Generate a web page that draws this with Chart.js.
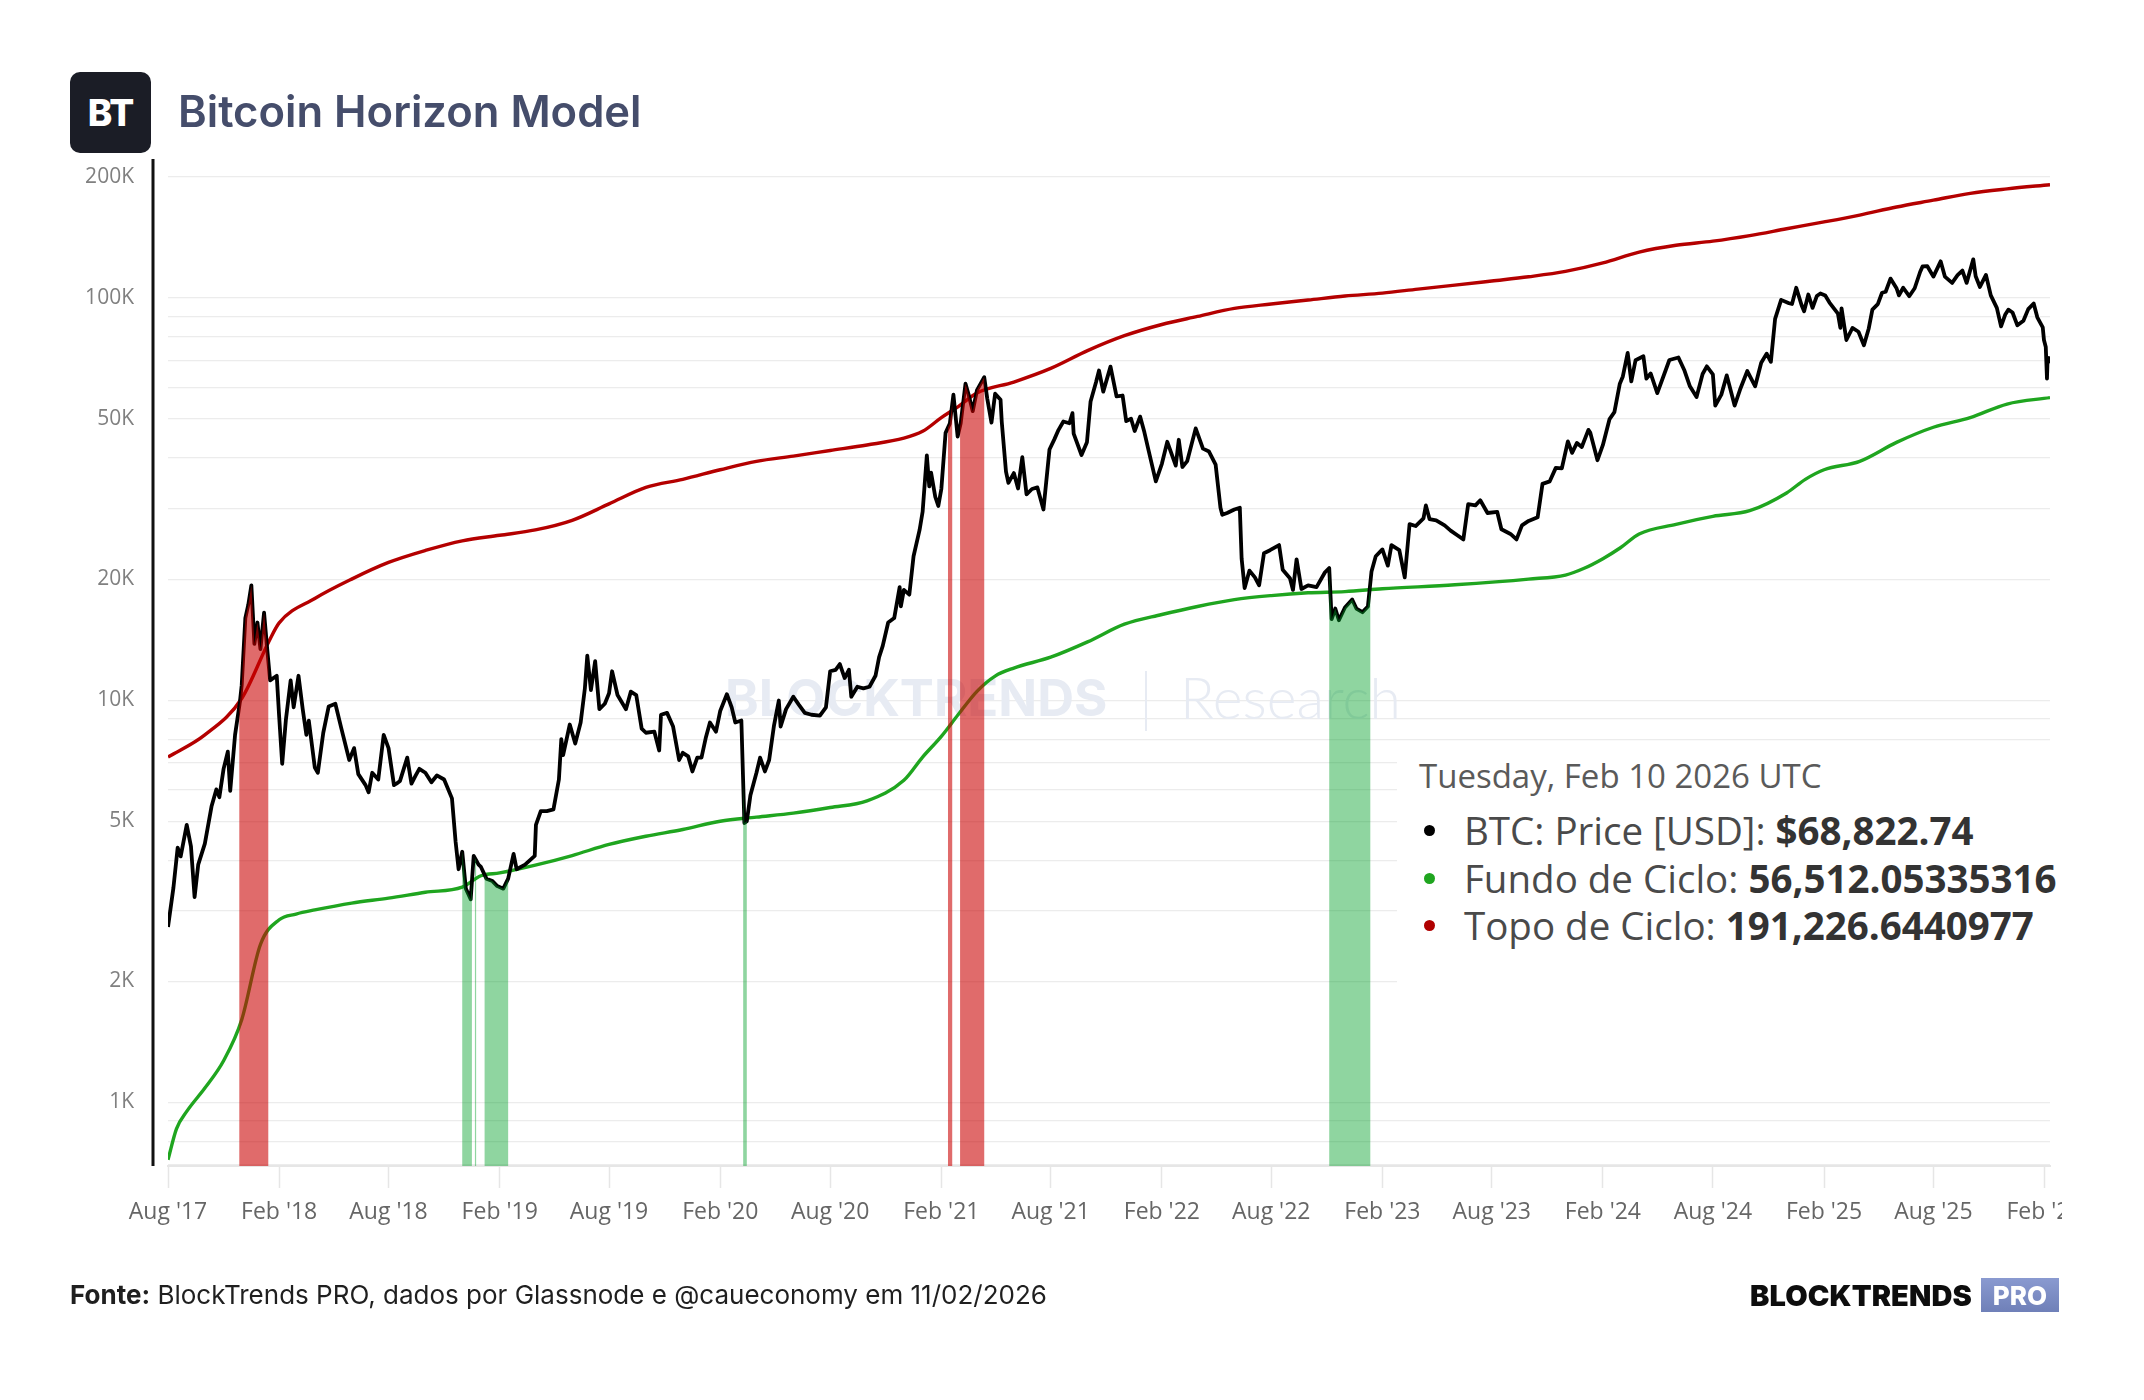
<!DOCTYPE html>
<html>
<head>
<meta charset="utf-8">
<title>Bitcoin Horizon Model</title>
<script src="https://cdn.jsdelivr.net/npm/chart.js@4.4.1/dist/chart.umd.min.js"></script>
<style>
  html, body { margin: 0; padding: 0; background: #fff; }
  #page { position: relative; width: 2144px; height: 1400px; overflow: hidden; background: #fff; font-family: Inter, sans-serif; }
  #chart { position: absolute; left: 0; top: 0; }
  .logo { position: absolute; left: 70px; top: 72px; width: 81px; height: 81px; border-radius: 10px; background: #1b1d26; color: #fff;
          font: 800 37px Inter, sans-serif; display: flex; align-items: center; justify-content: center; letter-spacing: -1px; }
  .title { position: absolute; left: 178px; top: 84px; font: 600 43.6px Inter, sans-serif; line-height: 56px; color: #454d6b; }
  .tip { position: absolute; left: 1397px; top: 752px; width: 700px; height: 235px; background: #fff; font-family: "Open Sans", sans-serif; }
  .tip .head { position: absolute; left: 22px; top: 5px; font-size: 33px; line-height: 38px; color: #5a5a5a; }
  .tip .row { position: absolute; left: 67px; font-size: 38.5px; line-height: 48px; color: #4a4a4a; white-space: nowrap; }
  .tip .row b { color: #333; font-weight: 700; }
  .tip .dot { position: absolute; left: 27px; width: 11px; height: 11px; border-radius: 50%; }
  .mask { position: absolute; left: 2062px; top: 1172px; width: 82px; height: 80px; background: #fff; }
  .source { position: absolute; left: 70px; top: 1277px; font: 400 26px Inter, sans-serif; line-height: 36px; color: #1f1f1f; }
  .source b { font-weight: 700; }
  .brand { position: absolute; left: 1750px; top: 1278px; height: 34px; display: flex; align-items: center; }
  .brand .word { font: 900 29px Inter, sans-serif; color: #0d0d0d; letter-spacing: 0.1px; }
  .brand .pro { margin-left: 9px; width: 78px; height: 34px; background: linear-gradient(#8a9ad0, #6f80b8); color: #fff;
                font: 800 26px Inter, sans-serif; display: flex; align-items: center; justify-content: center; }
</style>
</head>
<body>
<div id="page">
  <canvas id="chart" width="2144" height="1400"></canvas>
  <div class="logo">BT</div>
  <div class="title">Bitcoin Horizon Model</div>
  <div class="tip">
    <div class="head">Tuesday, Feb 10 2026 UTC</div>
    <span class="dot" style="top:73px;background:#000"></span>
    <div class="row" style="top:54px">BTC: Price [USD]: <b>$68,822.74</b></div>
    <span class="dot" style="top:121px;background:#1fa51f"></span>
    <div class="row" style="top:102px">Fundo de Ciclo: <b>56,512.05335316</b></div>
    <span class="dot" style="top:168px;background:#b00000"></span>
    <div class="row" style="top:149px">Topo de Ciclo: <b>191,226.6440977</b></div>
  </div>
  <div class="mask"></div>
  <div class="source"><b>Fonte:</b> BlockTrends PRO, dados por Glassnode e @caueconomy em 11/02/2026</div>
  <div class="brand"><span class="word">BLOCKTRENDS</span><span class="pro">PRO</span></div>
</div>
<script>
// BTC price (roughly two to four points a month)
const priceDates = [
  '2017-08-01','2017-08-10','2017-08-17','2017-08-22','2017-09-01','2017-09-08','2017-09-14','2017-09-20','2017-10-01','2017-10-12','2017-10-20','2017-10-25','2017-11-01','2017-11-08','2017-11-12','2017-11-20','2017-11-28','2017-12-01','2017-12-07','2017-12-12','2017-12-17','2017-12-22','2017-12-27',
  '2018-01-01','2018-01-07','2018-01-12','2018-01-17','2018-01-28','2018-02-01','2018-02-06','2018-02-12','2018-02-20','2018-02-25','2018-03-05','2018-03-12','2018-03-18','2018-03-22','2018-04-01','2018-04-06','2018-04-15','2018-04-24','2018-05-05','2018-05-15','2018-05-28','2018-06-05','2018-06-12','2018-06-24','2018-06-29','2018-07-05','2018-07-15','2018-07-24','2018-08-01','2018-08-10','2018-08-14','2018-08-20','2018-09-01','2018-09-08','2018-09-15','2018-09-21','2018-10-01','2018-10-11','2018-10-20','2018-11-01','2018-11-14','2018-11-20','2018-11-25','2018-12-01','2018-12-07','2018-12-15','2018-12-20','2018-12-24','2018-12-28',
  '2019-01-01','2019-01-10','2019-01-20','2019-01-28','2019-02-07','2019-02-15','2019-02-24','2019-03-01','2019-03-15','2019-03-31','2019-04-02','2019-04-10','2019-04-20','2019-05-01','2019-05-10','2019-05-14','2019-05-17','2019-05-28','2019-06-06','2019-06-15','2019-06-22','2019-06-26','2019-07-02','2019-07-09','2019-07-16','2019-07-25','2019-08-01','2019-08-06','2019-08-15','2019-08-29','2019-09-06','2019-09-15','2019-09-24','2019-10-01','2019-10-15','2019-10-23','2019-10-26','2019-11-05','2019-11-15','2019-11-25','2019-12-01','2019-12-10','2019-12-17','2019-12-25',
  '2020-01-01','2020-01-08','2020-01-15','2020-01-25','2020-02-01','2020-02-12','2020-02-20','2020-02-26','2020-03-07','2020-03-12','2020-03-16','2020-03-22','2020-04-01','2020-04-07','2020-04-15','2020-04-22','2020-04-30','2020-05-08','2020-05-11','2020-05-20','2020-06-01','2020-06-10','2020-06-20','2020-07-01','2020-07-15','2020-07-25','2020-08-01','2020-08-10','2020-08-17','2020-08-25','2020-09-01','2020-09-05','2020-09-15','2020-09-25','2020-10-05','2020-10-15','2020-10-21','2020-10-27','2020-11-05','2020-11-15','2020-11-24','2020-11-26','2020-12-01','2020-12-10','2020-12-17','2020-12-27',
  '2021-01-01','2021-01-08','2021-01-12','2021-01-15','2021-01-22','2021-01-27','2021-02-01','2021-02-08','2021-02-15','2021-02-21','2021-02-28','2021-03-05','2021-03-13','2021-03-18','2021-03-25','2021-04-01','2021-04-13','2021-04-18','2021-04-25','2021-05-01','2021-05-10','2021-05-12','2021-05-19','2021-05-23','2021-06-01','2021-06-08','2021-06-15','2021-06-22','2021-07-01','2021-07-10','2021-07-20','2021-07-30','2021-08-07','2021-08-14','2021-08-22','2021-09-01','2021-09-06','2021-09-08','2021-09-21','2021-09-30','2021-10-06','2021-10-15','2021-10-20','2021-10-27','2021-11-08','2021-11-18','2021-11-28','2021-12-04','2021-12-12','2021-12-18','2021-12-27',
  '2022-01-03','2022-01-10','2022-01-22','2022-02-01','2022-02-10','2022-02-24','2022-03-01','2022-03-07','2022-03-15','2022-03-29','2022-04-10','2022-04-20','2022-05-01','2022-05-09','2022-05-12','2022-05-20','2022-06-01','2022-06-10','2022-06-13','2022-06-18','2022-06-26','2022-07-05','2022-07-12','2022-07-20','2022-07-30','2022-08-14','2022-08-20','2022-09-01','2022-09-06','2022-09-12','2022-09-20','2022-10-01','2022-10-15','2022-10-29','2022-11-05','2022-11-09','2022-11-15','2022-11-21','2022-12-01','2022-12-13','2022-12-20','2022-12-30',
  '2023-01-08','2023-01-14','2023-01-21','2023-02-01','2023-02-10','2023-02-16','2023-03-01','2023-03-10','2023-03-18','2023-03-28','2023-04-10','2023-04-14','2023-04-20','2023-05-01','2023-05-15','2023-05-25','2023-06-05','2023-06-15','2023-06-23','2023-07-05','2023-07-13','2023-07-25','2023-08-10','2023-08-17','2023-09-01','2023-09-11','2023-09-20','2023-10-01','2023-10-16','2023-10-24','2023-11-05','2023-11-15','2023-11-25','2023-12-05','2023-12-12','2023-12-20','2023-12-28',
  '2024-01-08','2024-01-11','2024-01-23','2024-02-01','2024-02-12','2024-02-20','2024-02-29','2024-03-05','2024-03-13','2024-03-19','2024-03-26','2024-04-08','2024-04-13','2024-04-20','2024-05-01','2024-05-15','2024-05-21','2024-06-05','2024-06-15','2024-06-24','2024-07-05','2024-07-15','2024-07-22','2024-08-01','2024-08-05','2024-08-15','2024-08-24','2024-09-06','2024-09-15','2024-09-27','2024-10-10','2024-10-20','2024-10-29','2024-11-05','2024-11-12','2024-11-22','2024-12-05','2024-12-10','2024-12-17','2024-12-26','2024-12-30',
  '2025-01-06','2025-01-13','2025-01-20','2025-01-26','2025-02-03','2025-02-10','2025-02-24','2025-02-28','2025-03-02','2025-03-10','2025-03-20','2025-03-30','2025-04-08','2025-04-16','2025-04-22','2025-05-01','2025-05-08','2025-05-14','2025-05-22','2025-06-01','2025-06-05','2025-06-12','2025-06-22','2025-07-01','2025-07-10','2025-07-14','2025-07-22','2025-08-01','2025-08-13','2025-08-20','2025-09-01','2025-09-10','2025-09-18','2025-09-25','2025-10-06','2025-10-10','2025-10-17','2025-10-27','2025-11-04','2025-11-14','2025-11-21','2025-11-28','2025-12-03','2025-12-10','2025-12-18','2025-12-28',
  '2026-01-05','2026-01-14','2026-01-20','2026-01-29','2026-01-31','2026-02-03','2026-02-05','2026-02-06','2026-02-08','2026-02-10'
];
const priceValues = [
  2730, 3420, 4300, 4090, 4900, 4330, 3240, 3900, 4400, 5440, 6000, 5740, 6750, 7450, 5950, 8200, 9900, 10900, 16000, 17300, 19300, 13800, 15600,
  13400, 16500, 13500, 11200, 11500, 9100, 6950, 8900, 11200, 9600, 11500, 9500, 8200, 8900, 6800, 6600, 8300, 9650, 9800, 8500, 7100, 7600, 6550, 6150, 5900, 6600, 6350, 8200, 7600, 6150, 6200, 6300, 7200, 6200, 6500, 6750, 6600, 6250, 6500, 6350, 5700, 4450, 3800, 4200, 3400, 3200, 4100, 4000, 3900,
  3850, 3600, 3550, 3450, 3400, 3600, 4150, 3800, 3900, 4100, 4900, 5300, 5300, 5350, 6350, 8000, 7300, 8700, 7800, 8800, 10700, 12900, 10600, 12500, 9500, 9800, 10400, 11800, 10300, 9500, 10500, 10300, 8500, 8300, 8350, 7500, 9200, 9300, 8600, 7100, 7400, 7250, 6650, 7200,
  7200, 8050, 8800, 8350, 9400, 10350, 9600, 8800, 8900, 4950, 5000, 5800, 6600, 7200, 6650, 7100, 8650, 9980, 8600, 9500, 10200, 9750, 9300, 9200, 9150, 9600, 11800, 11900, 12300, 11350, 11900, 10200, 10800, 10700, 10800, 11500, 12800, 13650, 15600, 16000, 19100, 17100, 18800, 18300, 22800, 26500,
  29400, 40600, 34000, 36800, 32000, 30400, 33500, 46200, 48700, 57500, 45200, 48800, 61200, 57600, 52300, 59000, 63500, 56200, 49000, 57800, 55800, 49200, 37000, 34700, 36700, 33600, 40200, 32500, 33500, 33800, 29800, 42000, 44500, 47000, 49300, 48800, 51700, 46000, 40700, 43800, 55300, 61700, 66000, 58500, 67500, 56900, 57200, 49400, 50100, 46700, 50700,
  46400, 41800, 35000, 38700, 43900, 38300, 44400, 38000, 39300, 47400, 42200, 41500, 38500, 30100, 28900, 29200, 29800, 30100, 22500, 19000, 21000, 20200, 19300, 23200, 23600, 24300, 21100, 20100, 18800, 22400, 18900, 19300, 19100, 20800, 21300, 15900, 16900, 15800, 17000, 17800, 16900, 16550,
  17100, 20900, 22800, 23700, 21600, 24300, 23600, 20200, 27400, 27100, 28300, 30500, 28200, 28000, 27200, 26400, 25700, 25100, 30700, 30500, 31400, 29200, 29400, 26600, 25900, 25100, 27200, 27900, 28500, 34500, 35000, 37800, 37700, 44000, 41200, 43600, 42600,
  47000, 46300, 39500, 43100, 50000, 52000, 61200, 63800, 73000, 62000, 70000, 71600, 63000, 64900, 58000, 66200, 70100, 71100, 66000, 60300, 56700, 64700, 67600, 64600, 54000, 57500, 64200, 54000, 59200, 65800, 60300, 69000, 72700, 69400, 88700, 98900, 97000, 96600, 106000, 95800, 92700,
  102000, 94500, 101100, 102600, 101400, 97400, 91400, 84300, 94200, 78600, 84200, 82400, 76300, 84000, 93500, 96500, 103000, 103600, 111700, 105700, 101500, 106000, 101000, 105700, 116000, 119800, 119900, 113000, 123300, 113000, 109000, 113900, 117000, 109000, 124700, 113200, 106500, 114100, 101500, 94500, 85000, 91000, 93500, 92000, 85500, 87800,
  93800, 96900, 89500, 84500, 78600, 75500, 63000, 70500, 70900, 68822.74
];

// Topo de Ciclo (red) and Fundo de Ciclo (green) model lines
const topDates = [
  '2017-08-01','2017-10-01','2017-12-01','2018-01-15','2018-02-01','2018-04-01','2018-06-01','2018-08-01','2018-10-01','2018-12-01',
  '2019-02-01','2019-04-01','2019-06-01','2019-08-01','2019-10-01','2019-12-01','2020-02-01','2020-04-01','2020-06-01','2020-08-01',
  '2020-10-01','2020-12-01','2021-01-01','2021-02-01','2021-03-01','2021-04-01','2021-06-01','2021-08-01','2021-10-01','2021-12-01',
  '2022-02-01','2022-04-01','2022-06-01','2022-08-01','2022-10-01','2022-12-01','2023-02-01','2023-04-01','2023-06-01','2023-08-01',
  '2023-10-01','2023-12-01','2024-02-01','2024-04-01','2024-06-01','2024-08-01','2024-10-01','2024-12-01','2025-02-01','2025-04-01',
  '2025-06-01','2025-08-01','2025-10-01','2025-12-01','2026-02-10'
];
const topValues = [
  7220, 8200, 10100, 14000, 15570, 17900, 20000, 22000, 23560, 24900,
  25700, 26500, 28000, 30760, 33800, 35400, 37400, 39250, 40450, 41760,
  43100, 44800, 46600, 50400, 53700, 58050, 61800, 66800, 73950, 80550,
  85900, 89950, 94200, 96600, 98800, 101100, 102800, 105200, 107600, 110200,
  112900, 116400, 122200, 130000, 135200, 138400, 142900, 148600, 154500, 160700,
  168300, 175000, 182000, 186700, 191226.64
];
const bottomDates = [
  '2017-08-01','2017-08-15','2017-09-01','2017-10-01','2017-11-01','2017-12-01','2018-01-01','2018-02-01','2018-03-01','2018-04-01',
  '2018-06-01','2018-08-01','2018-10-01','2018-12-01','2019-01-01','2019-02-01','2019-04-01','2019-06-01','2019-08-01','2019-10-01',
  '2019-12-01','2020-02-01','2020-04-01','2020-06-01','2020-08-01','2020-10-01','2020-12-01','2021-01-01','2021-02-01','2021-03-01',
  '2021-04-01','2021-05-01','2021-06-01','2021-08-01','2021-10-01','2021-12-01','2022-02-01','2022-04-01','2022-06-01','2022-08-01',
  '2022-10-01','2022-12-01','2023-02-01','2023-06-01','2023-10-01','2023-12-01','2024-01-01','2024-02-01','2024-03-01','2024-04-01',
  '2024-06-01','2024-08-01','2024-10-01','2024-12-01','2025-01-01','2025-02-01','2025-04-01','2025-06-01','2025-08-01','2025-10-01',
  '2025-12-01','2026-02-10'
];
const bottomValues = [
  720, 860, 950, 1086, 1270, 1606, 2470, 2845, 2940, 3010,
  3130, 3220, 3330, 3430, 3660, 3720, 3890, 4110, 4380, 4590,
  4770, 5000, 5120, 5240, 5410, 5620, 6320, 7220, 8130, 9210,
  10520, 11480, 12020, 12790, 13960, 15450, 16330, 17100, 17780, 18200,
  18490, 18620, 18920, 19360, 20000, 20470, 21280, 22480, 23930, 25900,
  27360, 28650, 29580, 32750, 35400, 37400, 39250, 43750, 47700, 50400,
  54480, 56512.05
];

// periods where price broke out of the model (top = above red, bottom = below green)
const bandStarts = ['2017-11-27', '2018-12-01', '2018-12-22', '2019-01-07', '2020-03-10', '2021-02-12', '2021-03-04', '2022-11-05'];
const bandEnds   = ['2018-01-14', '2018-12-17', '2018-12-24', '2019-02-15', '2020-03-16', '2021-02-19', '2021-04-13', '2023-01-12'];
const bandKinds  = ['top', 'bottom', 'bottom', 'bottom', 'bottom', 'top', 'top', 'bottom'];

const xTickDates = [
  '2017-08-01','2018-02-01','2018-08-01','2019-02-01','2019-08-01','2020-02-01','2020-08-01','2021-02-01','2021-08-01',
  '2022-02-01','2022-08-01','2023-02-01','2023-08-01','2024-02-01','2024-08-01','2025-02-01','2025-08-01','2026-02-01'
];
const yGridValues = [700, 800, 900, 1000, 2000, 3000, 4000, 5000, 6000, 7000, 8000, 9000,
  10000, 20000, 30000, 40000, 50000, 60000, 70000, 80000, 90000, 100000, 200000];
const yLabelValues = [1000, 2000, 5000, 10000, 20000, 50000, 100000, 200000];
const monthNames = ['Jan', 'Feb', 'Mar', 'Apr', 'May', 'Jun', 'Jul', 'Aug', 'Sep', 'Oct', 'Nov', 'Dec'];

const toTime = d => Date.parse(d + 'T00:00:00Z');
const toPoints = (dates, values) => dates.map((d, i) => ({ x: toTime(d), y: values[i] }));

function xLabel(t) {
  const d = new Date(t);
  return monthNames[d.getUTCMonth()] + " '" + String(d.getUTCFullYear()).slice(2);
}

const bandColors = { top: 'rgba(202, 0, 0, 0.58)', bottom: 'rgba(0, 159, 39, 0.44)' };

const decor = {
  id: 'decor',
  beforeDatasetsDraw(chart) {
    const ctx = chart.ctx;
    ctx.save();
    ctx.textBaseline = 'middle';
    ctx.fillStyle = '#e7ebf3';
    ctx.font = '700 51px Inter';
    ctx.fillText('BLOCKTRENDS', 725, 701);
    ctx.fillRect(1145, 671, 2, 60);
    ctx.font = '300 57px Lato';
    ctx.fillText('Research', 1180, 701);
    ctx.restore();
  },
  afterDatasetsDraw(chart) {
    // shade under the price line for each breakout period
    const ctx = chart.ctx;
    const area = chart.chartArea;
    const xs = chart.scales.x;
    const pts = chart.getDatasetMeta(0).data;
    bandStarts.forEach((s, i) => {
      const x0 = xs.getPixelForValue(toTime(s));
      const x1 = xs.getPixelForValue(toTime(bandEnds[i]));
      ctx.save();
      ctx.beginPath();
      ctx.rect(x0, area.top, x1 - x0, area.bottom - area.top);
      ctx.clip();
      ctx.beginPath();
      ctx.moveTo(pts[0].x, area.bottom);
      pts.forEach(p => ctx.lineTo(p.x, p.y));
      ctx.lineTo(pts[pts.length - 1].x, area.bottom);
      ctx.closePath();
      ctx.fillStyle = bandColors[bandKinds[i]];
      ctx.fill();
      ctx.restore();
    });
  },
  afterDraw(chart) {
    const ctx = chart.ctx;
    const area = chart.chartArea;
    ctx.save();
    ctx.fillStyle = '#111';
    ctx.fillRect(area.left - 16.5, 159, 3, area.bottom - 159);
    ctx.restore();
  }
};

new Chart(document.getElementById('chart'), {
  type: 'line',
  data: {
    datasets: [
      {
        label: 'BTC: Price [USD]',
        data: toPoints(priceDates, priceValues),
        borderColor: '#000',
        borderWidth: 3.8,
        pointRadius: 0,
        borderJoinStyle: 'round'
      },
      {
        label: 'Topo de Ciclo',
        data: toPoints(topDates, topValues),
        borderColor: '#b40000',
        borderWidth: 3.4,
        pointRadius: 0,
        cubicInterpolationMode: 'monotone'
      },
      {
        label: 'Fundo de Ciclo',
        data: toPoints(bottomDates, bottomValues),
        borderColor: '#1fa51f',
        borderWidth: 3.4,
        pointRadius: 0,
        cubicInterpolationMode: 'monotone'
      }
    ]
  },
  options: {
    responsive: false,
    animation: false,
    devicePixelRatio: 1,
    layout: { padding: { left: 0, top: 161, right: 94, bottom: 154 } },
    plugins: { legend: { display: false }, tooltip: { enabled: false } },
    scales: {
      x: {
        type: 'linear',
        bounds: 'data',
        min: toTime('2017-08-01'),
        max: toTime('2026-02-10'),
        afterBuildTicks: s => { s.ticks = xTickDates.map(d => ({ value: toTime(d) })); },
        afterFit: s => { s.height = 80; },
        grid: { drawOnChartArea: false, drawTicks: true, tickLength: 22, color: '#e6e6e6', tickWidth: 1.5 },
        border: { color: '#e6e6e6', width: 2 },
        ticks: {
          autoSkip: false, maxRotation: 0, padding: 11,
          color: '#666', font: { family: 'Open Sans', size: 23 },
          callback: v => xLabel(v)
        }
      },
      y: {
        type: 'logarithmic',
        bounds: 'data',
        min: 695,
        max: 219000,
        afterBuildTicks: s => { s.ticks = yGridValues.map(v => ({ value: v })); },
        afterFit: s => { s.width = 168; },
        grid: { color: '#ececec', lineWidth: 1.2, drawTicks: false },
        border: { display: false },
        ticks: {
          autoSkip: false, padding: 34,
          color: '#808080', font: { family: 'Open Sans', size: 21 },
          callback: v => yLabelValues.includes(v) ? (v / 1000) + 'K' : ''
        }
      }
    }
  },
  plugins: [decor]
});
</script>
</body>
</html>
